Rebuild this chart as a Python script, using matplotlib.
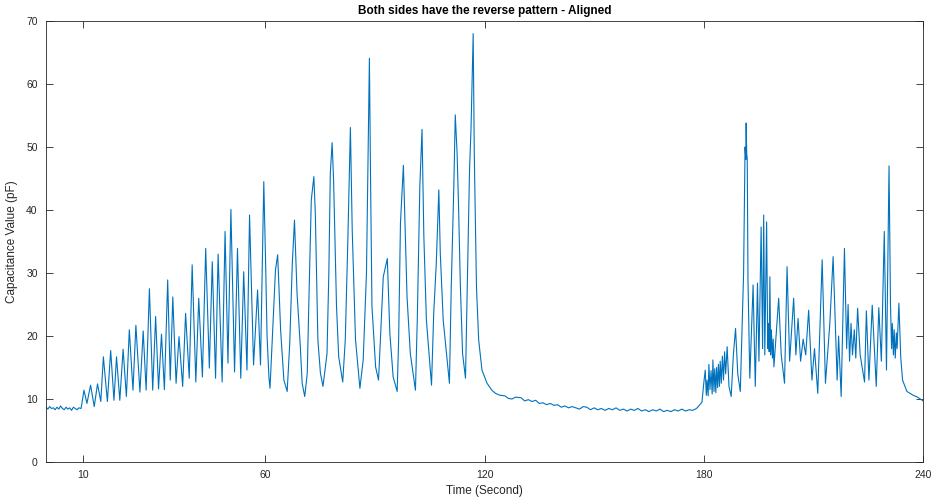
import matplotlib
matplotlib.use("Agg")
import matplotlib.pyplot as plt

plt.rcParams['font.family'] = ['Liberation Sans', 'DejaVu Sans']

title = "Both sides have the reverse pattern - Aligned"
x_label = "Time (Second)"
y_label = "Capacitance Value (pF)"
x_ticks = [10, 60, 120, 180, 240]
y_ticks = [0, 10, 20, 30, 40, 50, 60, 70]

# Signal readings (time in s, capacitance in pF)
t_start = [0, 0.5, 1, 1.5, 2, 2.5, 3, 3.5, 4, 4.5, 5, 5.5, 6, 6.5, 7, 7.5, 8, 8.5, 9, 9.6]
v_start = [8.7, 8.4, 8.8, 8.5, 8.6, 8.3, 8.7, 8.4, 8.9, 8.5, 8.3, 8.7, 8.4, 8.6, 8.2, 8.7, 8.5, 8.3, 8.6, 8.5]

t_rise = [10.4, 11.2, 12.2, 13.2, 14.1, 15.0, 15.7, 16.8, 17.7, 18.6, 19.3, 20.2,
          21.1, 22.0, 22.8, 23.8, 24.6, 25.7, 26.6, 27.4, 28.3, 29.2, 30.0, 30.8,
          31.6, 32.4, 33.3, 34.0, 34.7, 35.6, 36.4, 37.4, 38.2, 39.2, 40.0, 41.0,
          41.8, 42.8, 43.7, 44.7, 45.5, 46.4, 47.1, 48.2, 49.0, 49.8, 50.6, 51.6,
          52.4, 53.3, 54.1, 55.0, 55.7, 56.8, 57.9, 58.7]
v_rise = [11.4, 9.3, 12.2, 8.8, 12.4, 9.6, 16.7, 9.6, 17.7, 9.8, 16.7, 9.8,
          17.9, 10.4, 21.0, 11.4, 21.7, 11.1, 20.8, 11.4, 27.5, 11.4, 23.1, 11.6,
          20.3, 11.5, 28.9, 13.0, 26.2, 12.5, 19.9, 12.0, 23.6, 13.3, 31.3, 12.7,
          26.0, 13.5, 33.9, 14.9, 31.8, 13.3, 33.0, 12.7, 36.6, 15.7, 40.1, 14.3,
          33.9, 13.3, 30.2, 14.6, 39.2, 15.4, 27.3, 15.4]

t_big = [59.6, 60.1, 60.5, 61.0, 61.3, 62.2, 62.8, 63.4, 64.2, 65.1, 66.0, 66.7,
         67.4, 68.0, 68.7, 69.6, 70.1, 70.8, 71.5, 71.9, 72.6, 73.3, 73.7, 74.4,
         75.1, 75.8, 76.9, 77.4, 77.8, 78.3, 78.7, 79.5, 80.1, 81.2, 81.9, 82.6,
         83.3, 83.8, 84.7, 85.9, 86.8, 87.7, 88.3, 88.5, 88.8, 89.2, 90.2, 91.0,
         91.7, 92.3, 93.4, 94.1, 95.0, 96.1, 96.5, 97.0, 97.8, 98.8, 99.7, 101.1,
         101.6, 102.3, 102.9, 103.4, 104.1, 105.5, 106.1, 106.8, 107.5, 107.9, 108.7,
         110.4, 110.9, 111.6, 112.0, 112.5, 112.9, 113.4, 114.0, 114.8, 115.2, 115.9,
         116.3, 116.9, 117.2, 117.8, 118.4, 119.3, 120.7, 122.0, 123.0, 124.2]
v_big = [44.5, 31.5, 19.9, 13.5, 11.7, 23.1, 30.5, 32.9, 21.0, 13.0, 11.2, 18.8,
         31.5, 38.4, 26.8, 18.3, 12.5, 10.4, 14.1, 24.7, 41.6, 45.3, 39.5, 19.4,
         14.1, 12.0, 17.2, 30.0, 45.8, 50.7, 44.8, 24.7, 16.7, 12.7, 19.4, 35.2,
         53.1, 36.8, 19.4, 11.7, 16.2, 30.0, 56.4, 64.1, 45.8, 24.7, 15.1, 13.0,
         22.0, 29.4, 32.3, 20.4, 13.5, 11.2, 19.4, 37.9, 47.1, 26.2, 17.2, 11.4,
         22.5, 43.7, 52.8, 35.8, 22.5, 12.2, 23.6, 31.5, 43.2, 33.1, 22.5,
         12.5, 27.8, 43.7, 55.1, 49.0, 40.5, 27.8, 17.2, 13.3, 25.2, 46.3,
         52.7, 68.0, 49.0, 27.8, 19.4, 14.6, 12.5, 11.4, 10.9, 10.6]

t_rest = [125.6, 126.5, 127.5, 128.5, 130, 131, 132, 133, 134, 135, 136, 137, 138, 139,
          140, 141, 142, 143, 144, 145, 146, 147, 148, 149, 150, 151, 152, 153, 154,
          155, 156, 157, 158, 159, 160, 161, 162, 163, 164, 165, 166, 167, 168, 169,
          170, 171, 172, 173, 174, 175, 176, 177, 178, 178.5]
v_rest = [10.5, 10.1, 10.0, 10.3, 10.2, 9.7, 9.9, 9.6, 9.8, 9.3, 9.4, 9.1, 9.3, 9.0,
          9.1, 8.7, 8.9, 8.6, 8.8, 8.6, 8.4, 8.8, 8.7, 8.3, 8.6, 8.3, 8.5, 8.2, 8.5,
          8.3, 8.6, 8.2, 8.4, 8.1, 8.4, 8.2, 8.5, 8.1, 8.3, 8.0, 8.3, 8.1, 8.4, 8.0,
          8.2, 8.0, 8.3, 8.1, 8.4, 8.1, 8.3, 8.2, 8.5, 8.8]

t_end = [179.5, 180.0, 180.4, 180.7, 180.9, 181.2, 181.4, 181.7, 182.0, 182.3, 182.5,
         182.8, 183.0, 183.3, 183.5, 183.8, 184.0, 184.3, 184.5, 184.8, 185.1, 185.4,
         185.7, 186.0, 186.4, 186.9, 187.5, 188.1, 188.7, 189.3, 190.0,
         190.9, 191.3, 191.5, 191.6, 191.75, 191.9, 192.1, 192.6,
         193.5, 194.1, 194.7, 195.1, 195.7, 196.1, 196.4, 196.7, 197.2, 197.5, 197.7,
         197.9, 198.1, 198.3, 198.5, 198.8, 199.0, 199.2, 200.5, 201.2, 202.1, 202.8,
         203.5, 204.6, 205.2, 205.8, 206.5, 207.2, 207.9, 208.7, 209.6, 210.3, 211.2,
         212.4, 213.3, 214.5, 215.4, 216.5, 216.9, 217.6, 218.5, 219.1, 219.5, 219.9,
         220.3, 220.7, 221.2, 221.6, 222.1, 222.8, 224.0, 224.5, 225.2, 226.1, 227.2,
         227.9, 228.6, 229.4, 230.0, 230.7, 231.1, 231.4, 231.6, 231.9, 232.1, 232.4,
         232.7, 232.9, 233.4, 233.9, 234.4, 235.6, 237.3, 238.5, 240.0]
v_end = [9.5, 12.5, 14.6, 10.6, 13.0, 10.5, 15.5, 11.5, 14.5, 10.8, 16.2,
         11.2, 14.8, 11.0, 15.0, 11.8, 15.5, 12.0, 16.0, 12.5, 16.8, 13.0,
         17.5, 14.0, 18.3, 12.0, 10.4, 17.0, 21.2, 14.0, 11.2,
         30.0, 50.0, 48.0, 53.8, 49.0, 48.0, 28.9, 13.3,
         28.1, 12.0, 28.4, 16.0, 37.3, 18.0, 39.2, 17.0, 38.1, 18.0, 22.0,
         17.5, 29.4, 17.0, 21.0, 16.5, 19.5, 15.1, 26.0, 17.0, 12.5, 31.0,
         16.0, 26.0, 17.0, 22.8, 16.0, 19.5, 17.0, 24.1, 13.0, 18.0, 10.9,
         32.1, 12.5, 22.0, 32.6, 13.0, 20.0, 10.4, 33.9, 18.0, 25.0, 16.0,
         22.0, 17.0, 21.0, 16.5, 24.4, 17.0, 12.7, 24.0, 13.0, 24.9, 12.0,
         24.5, 16.0, 36.6, 14.6, 47.0, 25.0, 18.0, 22.0, 17.0, 21.0, 16.5,
         20.5, 18.0, 25.2, 16.7, 13.0, 11.2, 10.6, 10.3, 9.7]

time = t_start + t_rise + t_big + t_rest + t_end
cap = v_start + v_rise + v_big + v_rest + v_end

fig = plt.figure(figsize=(9.33, 4.99), dpi=100)
ax = fig.add_axes([0.0493, 0.0741, 0.940, 0.8838])
ax.plot(time, cap, color='#0072BD', linewidth=0.8)

ax.set_xlim(0, 240)
ax.set_ylim(0, 70)
ax.set_xticks(x_ticks)
ax.set_yticks(y_ticks)
gray = '#262626'
ax.tick_params(direction='in', top=True, right=True, length=5, width=0.6,
               labelsize=7.5, colors=gray, pad=6)
for s in ax.spines.values():
    s.set_color(gray)
    s.set_linewidth(0.6)
ax.set_xlabel(x_label, fontsize=8.5, color=gray, labelpad=3)
ax.set_ylabel(y_label, fontsize=8.5, color=gray, labelpad=6)
ax.set_title(title, fontsize=8.5, fontweight='bold', color='black', pad=5)

fig.savefig("out.png", dpi=100)
